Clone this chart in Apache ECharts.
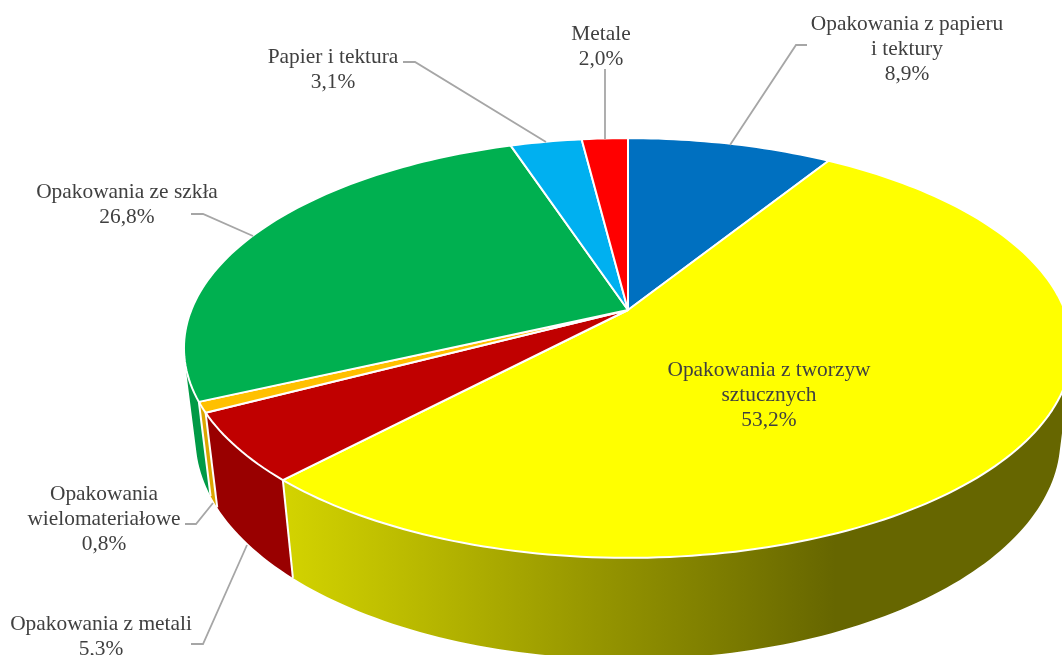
<!DOCTYPE html>
<html>
<head>
<meta charset="utf-8">
<style>html,body{margin:0;padding:0;background:#fff}#c{width:1062px;height:655px}</style>
<script src="https://cdn.jsdelivr.net/npm/echarts@6/dist/echarts.min.js"></script>
</head>
<body>
<div id="c"></div>
<script>
const categories = ['Opakowania z papieru\ni tektury', 'Opakowania z tworzyw\nsztucznych', 'Opakowania z metali', 'Opakowania\nwielomateriałowe', 'Opakowania ze szkła', 'Papier i tektura', 'Metale'];
const shares = [8.9, 53.2, 5.3, 0.8, 26.8, 3.1, 2.0];
const topColors = ['#0070C0', '#FFFF00', '#C00000', '#FFC000', '#00B050', '#00B0F0', '#FF0000'];
const sideColors = ['#005a9a', null, '#990000', '#dca600', '#009a46', '#008dc0', '#cc0000'];
const labelCenters = [[907, 49], [769, 395], [101, 637], [104, 519], [127, 205], [333, 70], [601, 47]];
const leaderLines = [
  [[730, 145], [796, 45], [807, 45]],
  null,
  [[247, 545], [203, 644], [191, 644]],
  [[213, 503], [196, 524], [185, 524]],
  [[253, 236], [203, 214], [191, 214]],
  [[546, 142], [415, 62], [403, 62]],
  [[605, 139], [605, 69]]
];

// Projection of the tilted disc on to the page
const view = { cx: 628, cy: 310, a: 436.7, b: 203, p: 0.181, drop: 92, q: 0.026 };
const total = shares.reduce((s, v) => s + v, 0);
const starts = [];
shares.reduce((s, v, i) => { starts[i] = s; return s + v; }, 0);

function project(frac, low) {
  const t = frac / total * Math.PI * 2, X = Math.sin(t), Y = Math.cos(t);
  const w = 1 + view.p * Y + (low ? view.q : 0);
  return [view.cx + view.a * X / w, view.cy + (-view.b * Y + (low ? view.drop : 0)) / w];
}
function arc(from, to, low) {
  const pts = [], n = Math.max(4, Math.ceil((to - from) * 3));
  for (let i = 0; i <= n; i++) pts.push(project(from + (to - from) * i / n, low));
  return pts;
}
function quadPath(q) {
  let area = 0;
  q.forEach((p, i) => { const r = q[(i + 1) % 4]; area += p[0] * r[1] - r[0] * p[1]; });
  const pts = area < 0 ? q.slice().reverse() : q;
  return 'M' + pts.map(p => p[0].toFixed(2) + ' ' + p[1].toFixed(2)).join('L') + 'Z';
}
const yellowSide = {
  type: 'linear', x: 291, y: 0, x2: 835, y2: 0, global: true,
  colorStops: [{ offset: 0, color: '#d2d200' }, { offset: 1, color: '#666600' }]
};

function renderSide(params, api) {
  const i = params.dataIndex, from = starts[i], to = from + api.value(0);
  const upper = arc(from, to, false), lower = arc(from, to, true);
  let pathData = '';
  for (let k = 0; k < upper.length - 1; k++) {
    pathData += quadPath([upper[k], upper[k + 1], lower[k + 1], lower[k]]);
  }
  return {
    type: 'group',
    children: [
      { type: 'path', shape: { pathData }, style: { fill: sideColors[i] || yellowSide, stroke: null } },
      { type: 'polyline', shape: { points: [project(from, false), project(from, true)] }, style: { stroke: '#fff', lineWidth: 2, fill: null } }
    ]
  };
}
function renderTop(params, api) {
  const i = params.dataIndex, from = starts[i], to = from + api.value(0);
  const pts = [[view.cx, view.cy]].concat(arc(from, to, false));
  return {
    type: 'polygon', shape: { points: pts },
    style: { fill: topColors[i], stroke: '#fff', lineWidth: 2, lineJoin: 'round' }
  };
}
function renderLabel(params, api) {
  const i = params.dataIndex;
  const value = api.value(0).toFixed(1).replace('.', ',') + '%';
  const children = [{
    type: 'text', x: labelCenters[i][0], y: labelCenters[i][1],
    style: {
      text: categories[i] + '\n' + value, align: 'center', verticalAlign: 'middle',
      font: '21.4px "Liberation Serif"', lineHeight: 25, fill: '#404040'
    }
  }];
  if (leaderLines[i]) children.unshift({
    type: 'polyline', shape: { points: leaderLines[i] },
    style: { stroke: '#a6a6a6', lineWidth: 1.8, fill: null }
  });
  return { type: 'group', children };
}

const seriesData = shares.map(v => [v]);
const chart = echarts.init(document.getElementById('c'), null, { renderer: 'canvas' });
chart.setOption({
  animation: false,
  backgroundColor: '#fff',
  series: [
    { type: 'custom', coordinateSystem: 'none', z: 1, silent: true, clip: false, data: seriesData, renderItem: renderSide },
    { type: 'custom', coordinateSystem: 'none', z: 2, silent: true, clip: false, data: seriesData, renderItem: renderTop },
    { type: 'custom', coordinateSystem: 'none', z: 3, silent: true, clip: false, data: seriesData, renderItem: renderLabel }
  ]
});
</script>
</body>
</html>
